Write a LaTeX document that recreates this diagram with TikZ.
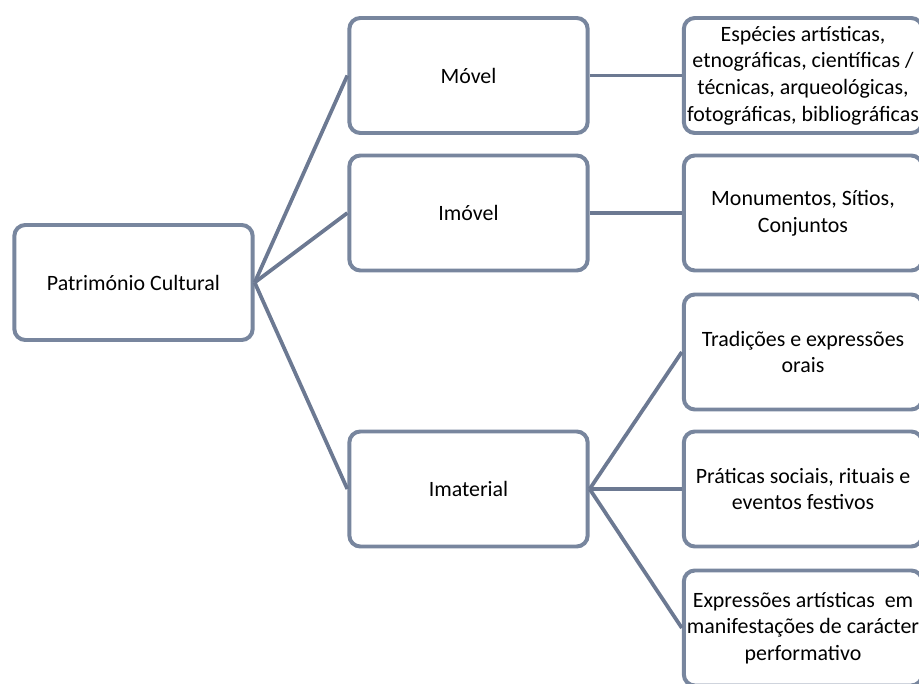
\documentclass[tikz,border=0pt]{standalone}
\usepackage{fontspec}
\setmainfont{Carlito}
\definecolor{boxline}{RGB}{120,134,158}
\definecolor{linkline}{RGB}{108,121,146}
\tikzset{
  box/.style={draw=boxline, line width=3.4pt, rounded corners=0.33cm,
    minimum width=7.15cm, minimum height=3.45cm, align=center,
    inner sep=0pt, font=\fontsize{18.7}{22.8}\selectfont},
  link/.style={draw=linkline, line width=3.2pt}
}
\begin{document}
\begin{tikzpicture}[x=0.03cm,y=-0.03cm]
\useasboundingbox (0,0) rectangle (919,684);
% root
\node[box] (pc) at (133.5,282.5) {Património Cultural};
% middle column
\node[box] (movel) at (468.5,75.5) {Móvel};
\node[box] (imovel) at (468.5,213) {Imóvel};
\node[box] (imaterial) at (468.5,489) {Imaterial};
% right column
\node[box] (especies) at (803,75.5) {Espécies artísticas,\\etnográficas, científicas /\\técnicas, arqueológicas,\\fotográficas, bibliográficas};
\node[box] (monumentos) at (803,213) {Monumentos, Sítios,\\Conjuntos};
\node[box] (tradicoes) at (803,352) {Tradições e expressões\\orais};
\node[box] (praticas) at (803,489) {Práticas sociais, rituais e\\eventos festivos};
\node[box] (expressoes) at (803,628) {Expressões artísticas~ em\\manifestações de carácter\\performativo};
% connectors
\draw[link] (pc.east) -- (movel.west);
\draw[link] (pc.east) -- (imovel.west);
\draw[link] (pc.east) -- (imaterial.west);
\draw[link] (movel.east) -- (especies.west);
\draw[link] (imovel.east) -- (monumentos.west);
\draw[link] (imaterial.east) -- (tradicoes.west);
\draw[link] (imaterial.east) -- (praticas.west);
\draw[link] (imaterial.east) -- (expressoes.west);
\end{tikzpicture}
\end{document}
